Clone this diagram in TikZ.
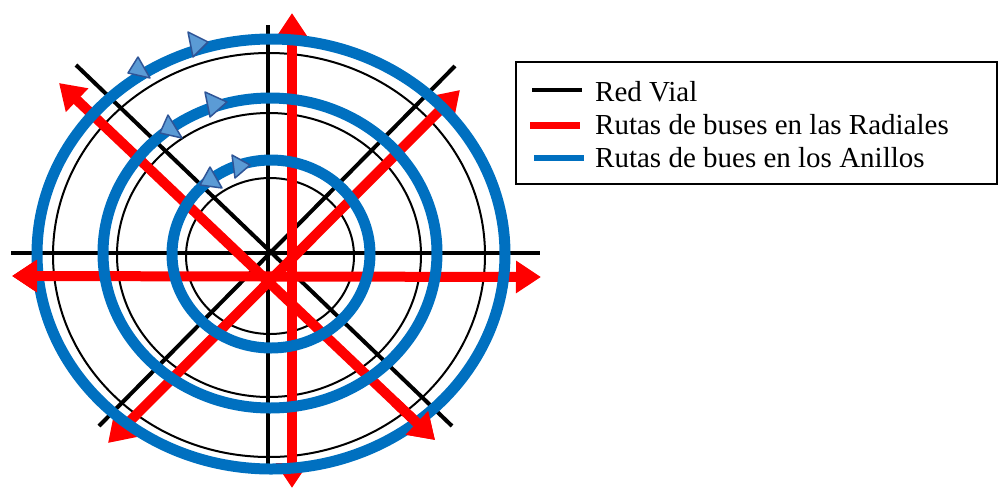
\documentclass[tikz,border=0pt]{standalone}
\usepackage{fontspec}
\setmainfont{Liberation Serif}
\usetikzlibrary{arrows.meta}
\definecolor{ringblue}{HTML}{0070C0}
\definecolor{tipfill}{HTML}{5B9BD5}
\definecolor{tipedge}{HTML}{2F5597}
\begin{document}
\begin{tikzpicture}[x=1pt,y=-1pt,
  road/.style={black,line width=4pt},
  ringroad/.style={black,line width=2pt},
  redtip/.tip={Triangle[length=25pt,width=31pt]},
  radial/.style={red,line width=10pt,redtip-redtip},
  radialend/.style={red,line width=10pt,-redtip},
  ring/.style={ringblue,line width=11pt},
  dirtip/.style={fill=tipfill,draw=tipedge,line width=1.5pt,line join=round},
  legendtext/.style={anchor=base west,font=\fontsize{29}{33}\selectfont,inner sep=0pt}]
\useasboundingbox (0,0) rectangle (998,488);

% road network: straight avenues
\draw[road] (268,25) -- (268,468);
\draw[road] (11,253) -- (540,253);
\draw[road] (76,65) -- (452,426);
\draw[road] (455,66) -- (99,426);
% road network: ring roads
\draw[ringroad] (269,255) ellipse [x radius=216, y radius=202];
\draw[ringroad] (269,255) ellipse [x radius=152, y radius=142];
\draw[ringroad] (270,256) ellipse [x radius=84, y radius=78];

% radial bus routes
\draw[radial] (292,13) -- (292,488);
\draw[radial] (12,276) -- (541,277);
\draw[radial] (59,83) -- (435,440);
\draw[radial] (108,443) -- (460,90);

% ring bus routes
\draw[ring] (271,254) ellipse [x radius=234, y radius=215];
\draw[ring] (270,253) ellipse [x radius=167, y radius=155];
\draw[ring] (271,254) ellipse [x radius=99, y radius=94];

% radial ends that lie over the outer ring
\draw[radialend] (70,276) -- (12,276);
\draw[radialend] (395,402) -- (435,440);

% direction marks on the rings
\draw[dirtip] (208,42) -- (188,32) -- (193,57) -- cycle;
\draw[dirtip] (138,57) -- (128,73) -- (150,78) -- cycle;
\draw[dirtip] (227,102) -- (205,92) -- (210,117) -- cycle;
\draw[dirtip] (168,115) -- (160,133) -- (182,138) -- cycle;
\draw[dirtip] (250,165) -- (232,155) -- (235,178) -- cycle;
\draw[dirtip] (210,167) -- (200,185) -- (222,188) -- cycle;

% legend
\draw[line width=1.5pt] (516,62) rectangle (997,184);
\coordinate (k1a) at (532,90);  \coordinate (k1b) at (582,90);
\coordinate (k2a) at (530,125.5); \coordinate (k2b) at (580,125.5);
\coordinate (k3a) at (534,158); \coordinate (k3b) at (584,158);
\draw[black,line width=3.5pt] (k1a) -- (k1b);
\draw[red,line width=7pt] (k2a) -- (k2b);
\draw[ringblue,line width=6.5pt] (k3a) -- (k3b);
\node[legendtext] (t1) at (595,101) {Red Vial};
\node[legendtext] (t2) at (595,134) {Rutas de buses en las Radiales};
\node[legendtext] (t3) at (595,167) {Rutas de bues en los Anillos};
\end{tikzpicture}
\end{document}
